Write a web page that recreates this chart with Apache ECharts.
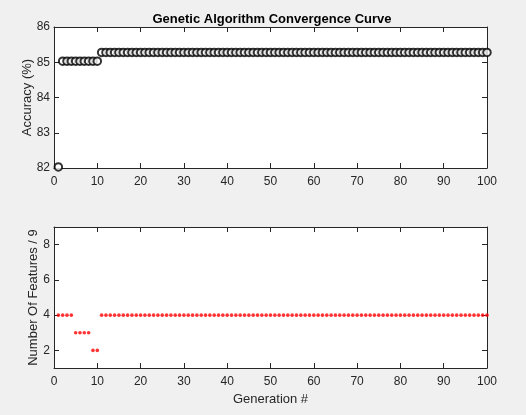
<!DOCTYPE html>
<html>
<head>
<meta charset="utf-8">
<script src="https://cdn.jsdelivr.net/npm/echarts@6/dist/echarts.min.js"></script>
<style>
  html, body { margin: 0; padding: 0; background: #f0f0f0; }
  #chart { width: 526px; height: 415px; }
</style>
</head>
<body>
<div id="chart"></div>
<script>
// accuracy (%) per generation, 1..100
var accuracy = [
    82.03, 85.03, 85.03, 85.03, 85.03, 85.03, 85.03, 85.03, 85.03, 85.03,
    85.28, 85.28, 85.28, 85.28, 85.28, 85.28, 85.28, 85.28, 85.28, 85.28,
    85.28, 85.28, 85.28, 85.28, 85.28, 85.28, 85.28, 85.28, 85.28, 85.28,
    85.28, 85.28, 85.28, 85.28, 85.28, 85.28, 85.28, 85.28, 85.28, 85.28,
    85.28, 85.28, 85.28, 85.28, 85.28, 85.28, 85.28, 85.28, 85.28, 85.28,
    85.28, 85.28, 85.28, 85.28, 85.28, 85.28, 85.28, 85.28, 85.28, 85.28,
    85.28, 85.28, 85.28, 85.28, 85.28, 85.28, 85.28, 85.28, 85.28, 85.28,
    85.28, 85.28, 85.28, 85.28, 85.28, 85.28, 85.28, 85.28, 85.28, 85.28,
    85.28, 85.28, 85.28, 85.28, 85.28, 85.28, 85.28, 85.28, 85.28, 85.28,
    85.28, 85.28, 85.28, 85.28, 85.28, 85.28, 85.28, 85.28, 85.28, 85.28
];
// number of selected features per generation
var features = [
    4, 4, 4, 4, 3, 3, 3, 3, 2, 2,
    4, 4, 4, 4, 4, 4, 4, 4, 4, 4,
    4, 4, 4, 4, 4, 4, 4, 4, 4, 4,
    4, 4, 4, 4, 4, 4, 4, 4, 4, 4,
    4, 4, 4, 4, 4, 4, 4, 4, 4, 4,
    4, 4, 4, 4, 4, 4, 4, 4, 4, 4,
    4, 4, 4, 4, 4, 4, 4, 4, 4, 4,
    4, 4, 4, 4, 4, 4, 4, 4, 4, 4,
    4, 4, 4, 4, 4, 4, 4, 4, 4, 4,
    4, 4, 4, 4, 4, 4, 4, 4, 4, 4
];
var featureTicks = [2, 4, 6, 8];
var generations = [];
for (var i = 1; i <= accuracy.length; i++) generations.push(i);

var txt = '#262626';
var font = 'Liberation Sans, Arial, sans-serif';

function pairs(ys) {
    return generations.map(function (g, k) { return [g, ys[k]]; });
}

function xAx(grid, pos, showLabel, name) {
    return {
        type: 'value', gridIndex: grid, position: pos, min: 0, max: 100, interval: 10,
        name: name || '', nameLocation: 'middle', nameGap: 25, nameMoveOverlap: false,
        nameTextStyle: { color: txt, fontSize: 13, fontFamily: font },
        axisLine: { show: true, onZero: false, lineStyle: { color: txt, width: 1 } },
        axisTick: { show: true, inside: true, length: 5, lineStyle: { color: txt } },
        axisLabel: { show: showLabel, color: txt, fontSize: 12, fontFamily: font, margin: 8 },
        splitLine: { show: false }
    };
}

function yAx(grid, pos, min, max, interval, showLabel, name, gap) {
    return {
        type: 'value', gridIndex: grid, position: pos, min: min, max: max, interval: interval,
        name: name || '', nameLocation: 'middle', nameGap: gap || 30, nameMoveOverlap: false,
        nameTextStyle: { color: txt, fontSize: 13, fontFamily: font },
        axisLine: { show: true, onZero: false, lineStyle: { color: txt, width: 1 } },
        axisTick: { show: true, inside: true, length: 5, lineStyle: { color: txt } },
        axisLabel: { show: showLabel, color: txt, fontSize: 12, fontFamily: font, margin: 4 },
        splitLine: { show: false }
    };
}

var chart = echarts.init(document.getElementById('chart'));
var option = {
    backgroundColor: '#f0f0f0',
    animation: false,
    title: {
        text: 'Genetic Algorithm Convergence Curve',
        left: 267, top: 8, textAlign: 'center',
        textStyle: { color: '#000', fontSize: 13, fontWeight: 'bold', fontFamily: font }
    },
    grid: [
        { left: 54, right: 39, top: 27, height: 141, show: true, backgroundColor: '#fff', borderWidth: 0 },
        { left: 54, right: 39, top: 227, height: 141, show: true, backgroundColor: '#fff', borderWidth: 0 }
    ],
    xAxis: [
        xAx(0, 'bottom', true),
        xAx(0, 'top', false),
        xAx(1, 'bottom', true, 'Generation #'),
        xAx(1, 'top', false)
    ],
    yAxis: [
        yAx(0, 'left', 82, 86, 1, true, 'Accuracy (%)', 20),
        yAx(0, 'right', 82, 86, 1, false),
        yAx(1, 'left', 1, 9, null, true, 'Number Of Features / 9', 14),
        yAx(1, 'right', 1, 9, null, false)
    ],
    series: [
        {
            type: 'scatter', xAxisIndex: 0, yAxisIndex: 0, clip: false,
            data: pairs(accuracy),
            symbol: 'emptyCircle', symbolSize: 7.5,
            itemStyle: { color: '#000', borderColor: '#2b2b2b', borderWidth: 0.75 }
        },
        {
            type: 'scatter', xAxisIndex: 2, yAxisIndex: 2, clip: false,
            data: pairs(features),
            symbol: 'circle', symbolSize: 3.6,
            itemStyle: { color: '#ff0000' }
        }
    ]
};
// features axis: ticks and labels only at 2, 4, 6, 8
[2, 3].forEach(function (k) {
    option.yAxis[k].axisTick.customValues = featureTicks;
    option.yAxis[k].axisLabel.customValues = featureTicks;
});
chart.setOption(option);
</script>
</body>
</html>
